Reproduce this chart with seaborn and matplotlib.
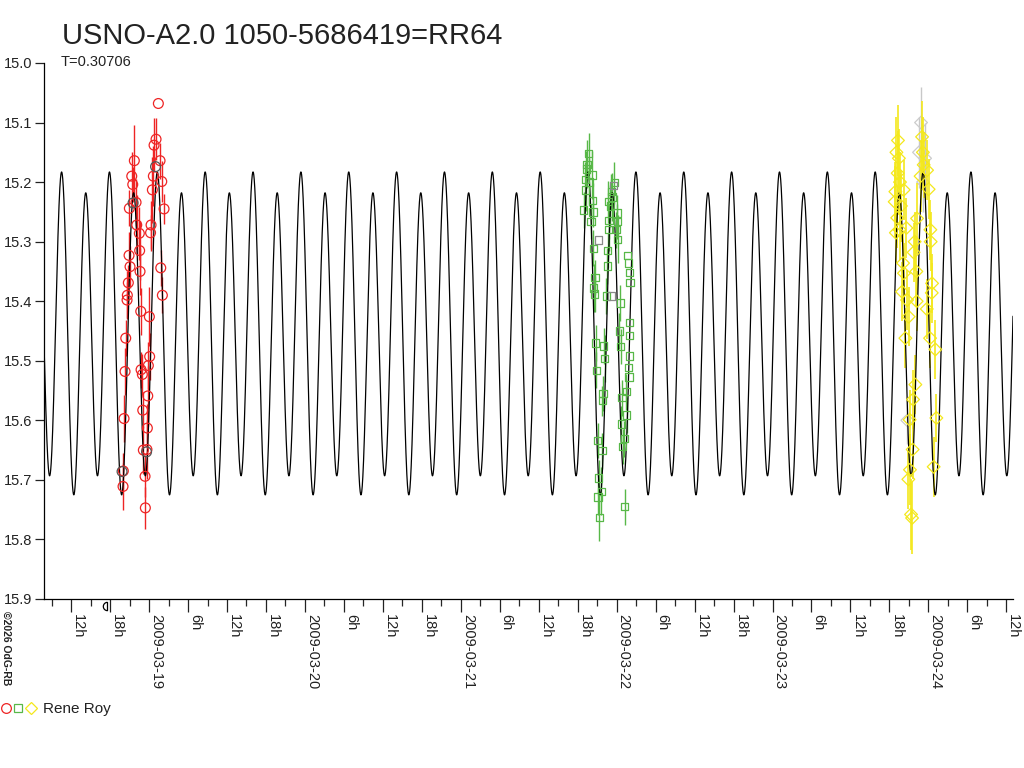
import numpy as np
import matplotlib.pyplot as plt
import seaborn as sns
from matplotlib.lines import Line2D
from matplotlib.legend_handler import HandlerTuple

# ---------------- Chart texts ----------------
title = "USNO-A2.0 1050-5686419=RR64"
subtitle = "T=0.30706"
observer = "Rene Roy"
copyright_txt = "\u00a92026 OdG-RB"
day_labels = ["2009-03-19", "2009-03-20", "2009-03-21", "2009-03-22", "2009-03-23", "2009-03-24"]
hour_labels = ["6h", "12h", "18h"]
mag_ticks = [15.0, 15.1, 15.2, 15.3, 15.4, 15.5, 15.6, 15.7, 15.8, 15.9]

# ---------------- Light curve model (EW type) ----------------
period = 0.30706        # days
epoch_max = 0.3608      # primary maximum, days after 2009-03-19 00:00
# m = c + a1*cos(2pi phi) + b1*sin(2pi phi) + a2*cos(4pi phi)
fourier = [15.4548, -0.0175, 0.016, -0.2542]
t_start, t_end = -0.674, 5.543   # days after 2009-03-19 00:00

# ---------------- Observations (days after 2009-03-19 00:00, mag, err) ----------------
red_t = [0.0597, 0.0449, 0.0321, -0.0944, 0.0706, -0.1110, 0.0276, -0.1046, 0.0815, 0.0212,
         -0.0834, -0.1264, 0.0963, -0.0789, 0.0128, -0.0623, 0.0096, -0.1284, -0.0603, 0.0751,
         -0.0578, -0.1220, -0.1329, -0.1393, -0.1412, 0.0854, -0.0533, 0.0019, -0.1496, 0.0039,
         -0.0045, -0.0513, -0.0430, -0.1540, -0.0083, -0.0404, -0.0109, -0.1605, -0.0366, -0.0135,
         -0.1650, -0.0257, -0.1669, -0.0237]
red_m = [15.068, 15.128, 15.138, 15.164, 15.164, 15.190, 15.190, 15.204, 15.199, 15.213,
         15.234, 15.244, 15.245, 15.272, 15.272, 15.286, 15.285, 15.323, 15.315, 15.344,
         15.350, 15.342, 15.369, 15.390, 15.398, 15.390, 15.417, 15.426, 15.462, 15.493,
         15.508, 15.515, 15.523, 15.518, 15.559, 15.583, 15.613, 15.597, 15.650, 15.649,
         15.685, 15.694, 15.711, 15.747]
red_e = [0.000, 0.035, 0.045, 0.060, 0.030, 0.040, 0.050, 0.030, 0.035, 0.055,
         0.040, 0.030, 0.025, 0.050, 0.040, 0.045, 0.030, 0.040, 0.050, 0.030,
         0.040, 0.035, 0.030, 0.040, 0.030, 0.030, 0.040, 0.050, 0.030, 0.040,
         0.040, 0.030, 0.035, 0.040, 0.050, 0.030, 0.040, 0.040, 0.040, 0.050,
         0.030, 0.035, 0.040, 0.035]

green_t = [2.8196, 2.8049, 2.8415, 2.7985, 2.8004, 2.8453, 2.7876, 2.8479, 2.8350, 2.8498,
           2.8607, 2.8517, 2.8581, 2.8645, 2.8691, 2.9121, 2.9076, 2.8774, 2.9056, 2.8838,
           2.9012, 2.8800, 2.8883, 2.9159, 2.9223, 2.9332, 2.9397, 2.9416, 2.9480, 2.9506,
           2.9461, 2.9653, 2.9846, 3.0019, 3.0039, 3.0058, 2.9974, 3.0231, 3.0167, 3.0250,
           3.0340, 3.0616, 3.0635, 3.0295, 3.0488, 3.0379, 3.0507, 3.0700, 3.0764, 3.0809,
           3.0854, 3.0809, 3.0822, 3.0828, 3.0745, 3.0796, 2.8100, 2.8250, 2.9600, 2.9700]
green_m = [15.152, 15.178, 15.188, 15.196, 15.213, 15.231, 15.247, 15.250, 15.266, 15.311,
           15.360, 15.378, 15.388, 15.470, 15.516, 15.555, 15.567, 15.634, 15.651, 15.697,
           15.719, 15.729, 15.763, 15.475, 15.496, 15.391, 15.341, 15.315, 15.280, 15.265,
           15.233, 15.216, 15.201, 15.252, 15.266, 15.296, 15.280, 15.403, 15.450, 15.476,
           15.562, 15.552, 15.591, 15.606, 15.631, 15.644, 15.745, 15.323, 15.336, 15.352,
           15.369, 15.436, 15.458, 15.492, 15.511, 15.527, 15.170, 15.200, 15.240, 15.225]
green_e = [0.035, 0.030, 0.040, 0.030, 0.035, 0.030, 0.030, 0.025, 0.030, 0.030,
           0.030, 0.040, 0.030, 0.030, 0.030, 0.030, 0.025, 0.030, 0.030, 0.030,
           0.040, 0.030, 0.040, 0.030, 0.040, 0.030, 0.030, 0.030, 0.035, 0.030,
           0.035, 0.030, 0.035, 0.030, 0.030, 0.040, 0.030, 0.030, 0.030, 0.030,
           0.030, 0.030, 0.030, 0.030, 0.030, 0.030, 0.030, 0.000, 0.000, 0.000,
           0.000, 0.000, 0.000, 0.000, 0.000, 0.000, 0.040, 0.040, 0.035, 0.040]

yellow_t = [4.9596, 4.9699, 4.9917, 4.8029, 4.7882, 4.8415, 5.0019, 4.7837, 4.7914, 4.8588,
            4.9275, 5.0128, 5.0148, 4.9120, 4.8376, 4.9057, 4.9230, 4.8434, 5.0237, 4.8312,
            4.8633, 4.9249, 5.0218, 4.9897, 4.8736, 4.8524, 5.0449, 5.0109, 4.9166, 4.9018,
            4.8800, 5.0513, 4.8992, 4.8819, 5.0340, 4.8716, 4.8889, 4.8954,
            4.7950, 4.8050, 4.8110, 4.8180, 4.8240, 4.8000, 4.8150, 4.9500, 4.9650]
yellow_m = [15.124, 15.171, 15.180, 15.185, 15.216, 15.213, 15.212, 15.233, 15.285, 15.277,
            15.261, 15.280, 15.300, 15.300, 15.336, 15.318, 15.350, 15.353, 15.370, 15.384,
            15.398, 15.400, 15.386, 15.413, 15.426, 15.462, 15.481, 15.462, 15.540, 15.565,
            15.599, 15.596, 15.649, 15.683, 15.678, 15.699, 15.758, 15.764,
            15.150, 15.130, 15.160, 15.200, 15.240, 15.260, 15.280, 15.190, 15.150]
yellow_e = [0.060, 0.055, 0.050, 0.070, 0.050, 0.050, 0.050, 0.060, 0.050, 0.050,
            0.060, 0.050, 0.050, 0.050, 0.050, 0.050, 0.060, 0.050, 0.050, 0.050,
            0.050, 0.050, 0.050, 0.050, 0.050, 0.050, 0.050, 0.050, 0.050, 0.050,
            0.050, 0.040, 0.050, 0.060, 0.050, 0.050, 0.060, 0.060,
            0.060, 0.060, 0.050, 0.050, 0.060, 0.050, 0.050, 0.060, 0.060]

grey_circle_t = [-0.1027, 0.0417, -0.1733, -0.0160]
grey_circle_m = [15.235, 15.174, 15.686, 15.653]
grey_square_t = [2.9780, 2.8820, 2.9650]
grey_square_m = [15.206, 15.297, 15.391]
grey_diamond_t = [4.9400, 4.9530, 4.9660, 4.9790, 4.8650]
grey_diamond_m = [15.150, 15.100, 15.200, 15.160, 15.600]
grey_diamond_e = [0.060, 0.060, 0.050, 0.060, 0.040]

red = "#ee2424"
green = "#58b848"
yellow = "#f4e81c"
grey = "#8a8a8a"

# ---------------- Plot ----------------
sns.set_style("white")
plt.rcParams['font.family'] = ['Liberation Sans', 'DejaVu Sans']

fig = plt.figure(figsize=(10.24, 7.68), dpi=100)
ax = fig.add_axes([44 / 1024, 1 - 599 / 768, 969 / 1024, 536 / 768])

t_model = np.linspace(t_start, t_end, 12000)
phi = (t_model - epoch_max) / period
c, a1, b1, a2 = fourier
m_model = c + a1 * np.cos(2 * np.pi * phi) + b1 * np.sin(2 * np.pi * phi) + a2 * np.cos(4 * np.pi * phi)
sns.lineplot(x=t_model, y=m_model, color="black", linewidth=0.9, ax=ax,
             sort=False, estimator=None, zorder=3)

ax.errorbar(grey_diamond_t, grey_diamond_m, yerr=grey_diamond_e, fmt="none",
            ecolor="#c8c8c8", elinewidth=1, zorder=1)
sns.scatterplot(x=grey_diamond_t, y=grey_diamond_m, marker="D", s=42, facecolors="none",
                edgecolor="#cccccc", linewidth=0.9, ax=ax, zorder=1)

ax.errorbar(red_t, red_m, yerr=red_e, fmt="none", ecolor=red, elinewidth=1, zorder=2)
sns.scatterplot(x=red_t, y=red_m, marker="o", s=50, facecolors="none",
                edgecolor=red, linewidth=0.9, ax=ax, zorder=4)
sns.scatterplot(x=grey_circle_t, y=grey_circle_m, marker="o", s=50, facecolors="none",
                edgecolor="#555555", linewidth=0.9, ax=ax, zorder=4)

ax.errorbar(green_t, green_m, yerr=green_e, fmt="none", ecolor=green, elinewidth=1, zorder=2)
sns.scatterplot(x=green_t, y=green_m, marker="s", s=28, facecolors="none",
                edgecolor=green, linewidth=0.9, ax=ax, zorder=4)
sns.scatterplot(x=grey_square_t, y=grey_square_m, marker="s", s=28, facecolors="none",
                edgecolor=grey, linewidth=0.9, ax=ax, zorder=4)

ax.errorbar(yellow_t, yellow_m, yerr=yellow_e, fmt="none", ecolor=yellow, elinewidth=1.2, zorder=2)
sns.scatterplot(x=yellow_t, y=yellow_m, marker="D", s=42, facecolors="none",
                edgecolor=yellow, linewidth=0.9, ax=ax, zorder=4)

# small half-moon marker below the axis
half_moon = [(np.cos(a), np.sin(a)) for a in np.linspace(np.pi / 2, 3 * np.pi / 2, 20)] + [(0, 1)]
ax.plot([-0.2696], [15.912], marker=half_moon, ms=6, mfc="none", mec="black",
        mew=0.9, ls="none", clip_on=False)

# axes
ax.set_xlim(t_start, t_end)
ax.set_ylim(15.9, 15.0)
sns.despine(ax=ax, top=True, right=True)
for s in ["left", "bottom"]:
    ax.spines[s].set_color("black")
    ax.spines[s].set_linewidth(0.9)

ax.set_yticks(mag_ticks)
ax.set_yticklabels([f"{v:.1f}" for v in mag_ticks])
ax.tick_params(axis="y", direction="out", length=6.5, width=0.9, pad=2,
               labelsize=10.5, colors="#222222", left=True)

major_pos = np.arange(-0.5, 5.51, 0.25)
major_lab = []
for p in major_pos:
    k = int(round(p * 4)) % 4
    if k == 0:
        major_lab.append(day_labels[int(round(p))])
    else:
        major_lab.append(hour_labels[k - 1])
ax.set_xticks(major_pos)
ax.set_xticklabels(major_lab, rotation=270, ha="left", va="top")
ax.set_xticks(np.arange(-0.625, 5.5, 0.25), minor=True)
ax.tick_params(axis="x", which="major", direction="out", length=9.5, width=0.9,
               pad=1, labelsize=10.5, colors="#222222", bottom=True)
ax.tick_params(axis="x", which="minor", direction="out", length=5, width=0.9, bottom=True)
ax.set_xlabel("")
ax.set_ylabel("")
ax.grid(False)

# texts
fig.text(62 / 1024, 1 - 44 / 768, title, fontsize=21, color="#222222", va="baseline")
fig.text(61 / 1024, 1 - 66 / 768, subtitle, fontsize=10.5, color="#222222", va="baseline")
fig.text(1 / 1024, 1 - 611 / 768, copyright_txt, fontsize=7.5, weight="bold",
         rotation=270, ha="left", va="top", color="#222222")

# legend
h1 = Line2D([], [], marker="o", ls="none", mfc="none", mec=red, ms=7, mew=0.9)
h2 = Line2D([], [], marker="s", ls="none", mfc="none", mec=green, ms=5.5, mew=0.9)
h3 = Line2D([], [], marker="D", ls="none", mfc="none", mec=yellow, ms=6, mew=0.9)
fig.legend([(h1, h2, h3)], [observer], handler_map={tuple: HandlerTuple(ndivide=None, pad=0.2)},
           loc="center left", bbox_to_anchor=(0.0, 1 - 709 / 768), frameon=False,
           fontsize=11, handlelength=2.2, handletextpad=0.5, borderpad=0.1,
           borderaxespad=0.0, labelcolor="#222222")

fig.savefig("out.png", dpi=100)
